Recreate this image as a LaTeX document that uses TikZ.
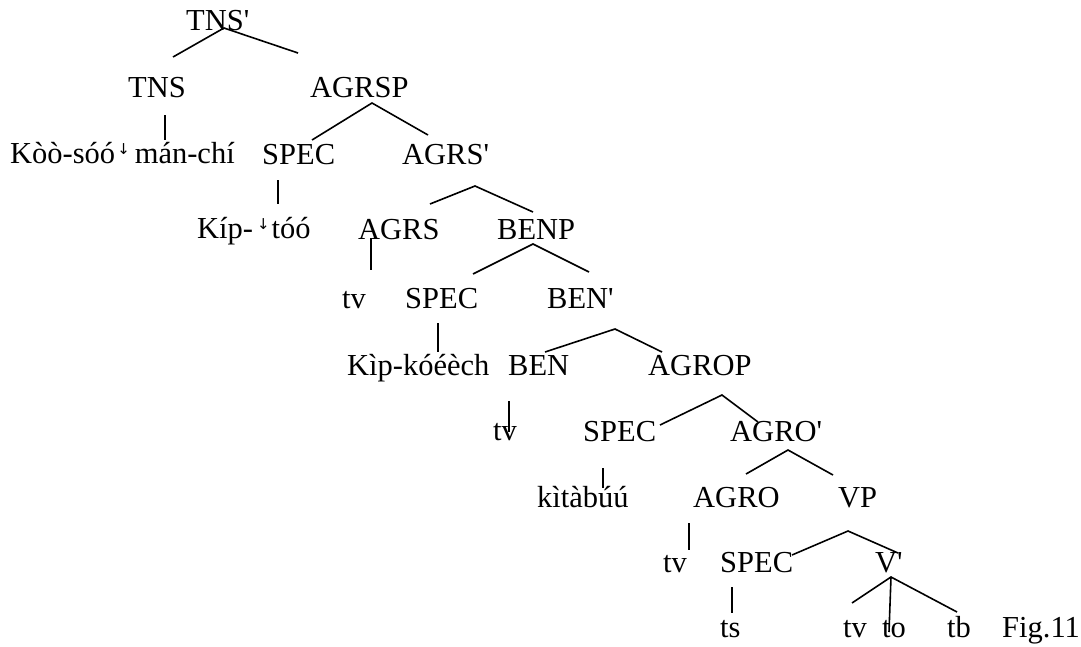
\documentclass[tikz,border=0pt]{standalone}
\usepackage{fontspec}
\setmainfont{Liberation Serif}[Ligatures=TeXOff]
\newfontfamily\arrowfont{DejaVu Sans}
\newcommand{\dstep}{{\arrowfont\fontsize{15}{15}\selectfont\raisebox{9pt}{↓}}}
\begin{document}
\begin{tikzpicture}[x=1pt,y=-1pt,
  lbl/.style={anchor=base west,inner sep=0pt,font=\fontsize{30.5}{36}\selectfont},
  br/.style={line width=1.6pt}]
\useasboundingbox (0,0) rectangle (1081,646);
% labels
\node[lbl] (tnsbar) at (186,30) {TNS'};
\node[lbl] (tns) at (128,97) {TNS};
\node[lbl] (agrsp) at (310,97) {AGRSP};
\node[lbl] (koo) at (10,163) {Kòò-sóó\kern2pt\dstep\kern5pt mán-chí};
\node[lbl] (spec1) at (262,164) {SPEC};
\node[lbl] (agrsbar) at (402,164) {AGRS'};
\node[lbl] (kip) at (197,238) {Kíp-\kern4pt\dstep\kern2pt tóó};
\node[lbl] (agrs) at (358,239) {AGRS};
\node[lbl] (benp) at (497,239) {BENP};
\node[lbl] (tv1) at (342,308) {tv};
\node[lbl] (spec2) at (405,308) {SPEC};
\node[lbl] (benbar) at (547,308) {BEN'};
\node[lbl] (kipk) at (347,375) {Kìp-kóéèch};
\node[lbl] (ben) at (508,375) {BEN};
\node[lbl] (agrop) at (648,375) {AGROP};
\node[lbl] (tv2) at (493,440) {tv};
\node[lbl] (spec3) at (583,441) {SPEC};
\node[lbl] (agrobar) at (730,441) {AGRO'};
\node[lbl] (kit) at (537,507) {kìtàbúú};
\node[lbl] (agro) at (693,507) {AGRO};
\node[lbl] (vp) at (838,507) {VP};
\node[lbl] (tv3) at (663,572) {tv};
\node[lbl] (spec4) at (720,572) {SPEC};
\node[lbl] (vbar) at (875,572) {V'};
\node[lbl] (ts) at (720,637) {ts};
\node[lbl] (tv4) at (843,637) {tv};
\node[lbl] (to) at (882,637) {to};
\node[lbl] (tb) at (947,637) {tb};
\node[lbl] (fig) at (1002,637) {Fig.11};
% branch points
\coordinate (a1) at (224,28); \coordinate (a1l) at (173,57); \coordinate (a1r) at (298,53);
\coordinate (v1t) at (165,115); \coordinate (v1b) at (165,140);
\coordinate (a2) at (372,103); \coordinate (a2l) at (312,140); \coordinate (a2r) at (428,135);
\coordinate (v2t) at (278,180); \coordinate (v2b) at (278,204);
\coordinate (a3) at (475,186); \coordinate (a3l) at (430,204); \coordinate (a3r) at (533,212);
\coordinate (v3t) at (371,238); \coordinate (v3b) at (371,270);
\coordinate (a4) at (533,244); \coordinate (a4l) at (473,274); \coordinate (a4r) at (589,272);
\coordinate (v4t) at (438,323); \coordinate (v4b) at (438,352);
\coordinate (a5) at (615,329); \coordinate (a5l) at (545,352); \coordinate (a5r) at (662,352);
\coordinate (v5t) at (509,401); \coordinate (v5b) at (509,432);
\coordinate (a6) at (722,395); \coordinate (a6l) at (660,425); \coordinate (a6r) at (758,422);
\coordinate (v6t) at (603,468); \coordinate (v6b) at (603,488);
\coordinate (a7) at (788,450); \coordinate (a7l) at (746,474); \coordinate (a7r) at (833,475);
\coordinate (v7t) at (689,523); \coordinate (v7b) at (689,550);
\coordinate (a8) at (848,531); \coordinate (a8l) at (792,555); \coordinate (a8r) at (898,553);
\coordinate (v8t) at (732,587); \coordinate (v8b) at (732,613);
\coordinate (a9) at (891,577); \coordinate (a9l) at (852,603); \coordinate (a9m) at (889,632); \coordinate (a9r) at (957,612);
% branches
\draw[br] (a1l) -- (a1) -- (a1r);
\draw[br] (v1t) -- (v1b);
\draw[br] (a2l) -- (a2) -- (a2r);
\draw[br] (v2t) -- (v2b);
\draw[br] (a3l) -- (a3) -- (a3r);
\draw[br] (v3t) -- (v3b);
\draw[br] (a4l) -- (a4) -- (a4r);
\draw[br] (v4t) -- (v4b);
\draw[br] (a5l) -- (a5) -- (a5r);
\draw[br] (v5t) -- (v5b);
\draw[br] (a6l) -- (a6) -- (a6r);
\draw[br] (v6t) -- (v6b);
\draw[br] (a7l) -- (a7) -- (a7r);
\draw[br] (v7t) -- (v7b);
\draw[br] (a8l) -- (a8) -- (a8r);
\draw[br] (v8t) -- (v8b);
\draw[br] (a9l) -- (a9) -- (a9r);
\draw[br] (a9) -- (a9m);
\end{tikzpicture}
\end{document}
